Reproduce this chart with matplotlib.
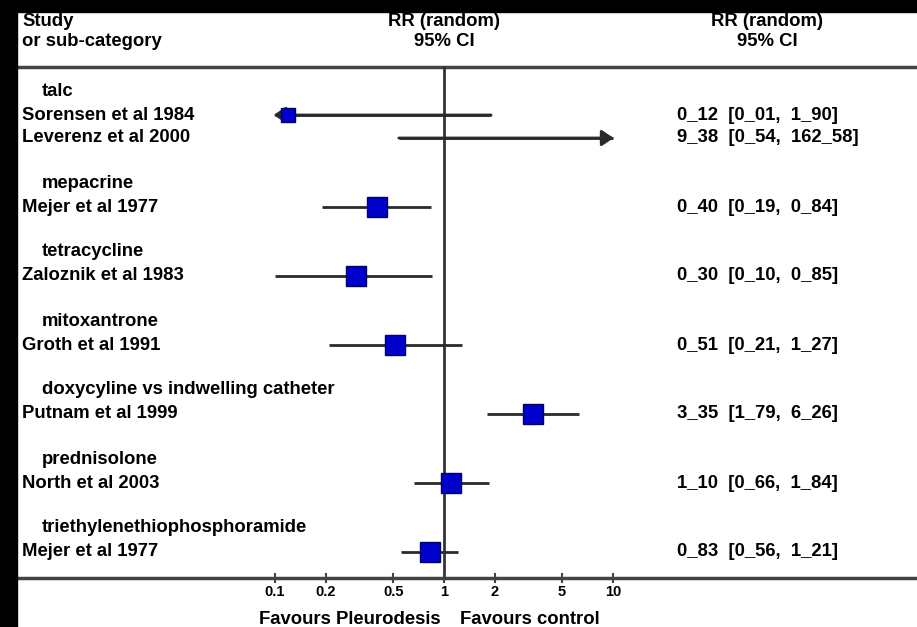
import numpy as np
import matplotlib.pyplot as plt
from matplotlib.patches import Rectangle
from matplotlib.transforms import blended_transform_factory

# subgroups and the studies in each
groups = ["talc", "mepacrine", "tetracycline", "mitoxantrone",
          "doxycyline vs indwelling catheter", "prednisolone",
          "triethylenethiophosphoramide"]
studies = [
    ["Sorensen et al 1984", "Leverenz et al 2000"],
    ["Mejer et al 1977"],
    ["Zaloznik et al 1983"],
    ["Groth et al 1991"],
    ["Putnam et al 1999"],
    ["North et al 2003"],
    ["Mejer et al 1977"],
]
rr = [[0.12, 9.38], [0.40], [0.30], [0.51], [3.35], [1.10], [0.83]]
lo = [[0.01, 0.54], [0.19], [0.10], [0.21], [1.79], [0.66], [0.56]]
hi = [[1.90, 162.58], [0.84], [0.85], [1.27], [6.26], [1.84], [1.21]]
ticks = [0.1, 0.2, 0.5, 1, 2, 5, 10]
tick_labels = ["0.1", "0.2", "0.5", "1", "2", "5", "10"]

W, H = 917, 627
plt.rcParams['font.family'] = ['Liberation Sans', 'DejaVu Sans']
plt.rcParams['font.weight'] = 'bold'

fig = plt.figure(figsize=(W / 100, H / 100), dpi=100, facecolor='white')
ax = fig.add_axes([0, 0, 1, 1])
ax.set_xscale('log')
# pixel mapping: x=1 at 444 px, 169 px per decade
x_one, dec = 444, 169
ax.set_xlim(10 ** (-x_one / dec), 10 ** ((W - x_one) / dec))
ax.set_ylim(H, 0)
ax.axis('off')

tr = blended_transform_factory(fig.transFigure, ax.transData)
fs = 13.3
line_col = '#2a2a2a'
box_col = '#0000cc'
xmin, xmax = 0.1, 10

# headers
ax.text(22 / W, 22, "Study", transform=tr, fontsize=fs, va='center')
ax.text(22 / W, 42, "or sub-category", transform=tr, fontsize=fs, va='center')
ax.text(1, 22, "RR (random)", fontsize=fs, va='center', ha='center')
ax.text(1, 42, "95% CI", fontsize=fs, va='center', ha='center')
ax.text(767 / W, 22, "RR (random)", transform=tr, fontsize=fs, va='center', ha='center')
ax.text(767 / W, 42, "95% CI", transform=tr, fontsize=fs, va='center', ha='center')

y_top, y_axis = 67, 578
ax.axhline(y_top, color='#444444', lw=2.5)
ax.axhline(y_axis, color='#444444', lw=2.5)
ax.plot([1, 1], [y_top, y_axis], color='#333333', lw=2)

box_sizes = [[10, 0], [15], [15], [15], [15], [15], [15]]

row = 0
y0, rh = 92, 23
for g, name in enumerate(groups):
    ax.text(42 / W, y0 + rh * row - 1, name, transform=tr, fontsize=fs, va='center')
    row += 1
    for k, st in enumerate(studies[g]):
        y = y0 + rh * row
        ax.text(22 / W, y, st, transform=tr, fontsize=fs, va='center')
        est, l, h = rr[g][k], lo[g][k], hi[g][k]
        a, b = max(l, xmin), min(h, xmax)
        ax.plot([a, b], [y, y], color=line_col, lw=2, solid_capstyle='butt')
        arrow = dict(arrowstyle='-|>,head_length=0.45,head_width=0.3', color=line_col,
                     lw=2, mutation_scale=16, shrinkA=0, shrinkB=0)
        if l < xmin:
            ax.annotate('', xy=(xmin * 0.98, y), xytext=(b, y), arrowprops=arrow)
        if h > xmax:
            ax.annotate('', xy=(xmax * 1.01, y), xytext=(a, y), arrowprops=arrow)
        if box_sizes[g][k] > 0:
            ax.plot(est, y, marker='s', ms=box_sizes[g][k], color=box_col,
                    mec='#000066', mew=1, zorder=5)
        txt = "%.2f  [%.2f,  %.2f]" % (est, l, h)
        ax.text(677 / W, y, txt.replace('.', '_'), transform=tr, fontsize=fs, va='center')
        row += 1
    row += 1

# axis ticks and labels
for t, lab in zip(ticks, tick_labels):
    ax.plot([t, t], [y_axis - 4, y_axis + 4], color='#444444', lw=1.5)
    ax.text(t, 592, lab, fontsize=10.5, ha='center', va='center')
ax.text(441 / W, 619, "Favours Pleurodesis", transform=tr, fontsize=fs, ha='right', va='center')
ax.text(460 / W, 619, "Favours control", transform=tr, fontsize=fs, ha='left', va='center')

# black frame bands from the scan
fig.add_artist(Rectangle((0, 1 - 12 / H), 1, 12 / H, transform=fig.transFigure,
                         color='black', zorder=10))
fig.add_artist(Rectangle((0, 0), 17 / W, 1, transform=fig.transFigure,
                         color='black', zorder=10))

fig.savefig('out.png', dpi=100, facecolor='white')
